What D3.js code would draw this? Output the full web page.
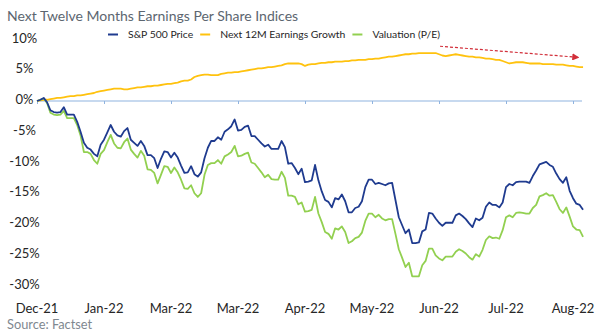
<!DOCTYPE html>
<html>
<head>
<meta charset="utf-8">
<script src="https://cdn.jsdelivr.net/npm/d3@7"></script>
<style>
  body { margin: 0; background: #fff; }
  svg { display: block; font-family: Lato, "Open Sans", sans-serif; }
</style>
</head>
<body>
<div id="chart"></div>
<script>
// x axis categories (one label every 20 trading days)
var xTickLabels = ["Dec-21", "Jan-22", "Mar-22", "Mar-22", "Apr-22", "May-22", "Jun-22", "Jul-22", "Aug-22"];
var yTicks = [10, 5, 0, -5, -10, -15, -20, -25, -30];

// daily % change since start
var sp500Price = [
  0, 0.2, 0.5, -0.2, -1.5, -1.8, -1.9, -1.8, -1.0, -2.2,
  -2.2, -2.2, -3.4, -5.0, -6.8, -7.6, -7.9, -8.6, -9.0, -7.1,
  -6.3, -5.1, -3.9, -5.0, -5.6, -5.8, -4.9, -4.4, -6.3, -6.8,
  -7.3, -6.5, -7.3, -8.8, -8.8, -9.3, -10.9, -9.4, -8.2, -8.3,
  -9.2, -8.4, -9.2, -10.5, -11.7, -11.6, -10.6, -11.9, -12.3, -11.6,
  -9.3, -7.6, -6.5, -6.5, -5.9, -6.3, -5.0, -4.6, -4.1, -3.0,
  -4.8, -4.7, -4.2, -4.0, -5.7, -5.7, -6.3, -6.9, -7.4, -7.1,
  -7.8, -7.8, -7.8, -6.5, -7.5, -10.2, -10.1, -10.9, -11.9, -11.0,
  -13.2, -13.1, -12.9, -10.4, -12.9, -14.7, -16.1, -16.4, -17.3, -15.8,
  -16.0, -15.2, -16.3, -18.1, -18.1, -17.4, -17.2, -16.3, -14.0, -12.8,
  -12.8, -13.5, -13.3, -13.5, -13.7, -13.4, -13.3, -16.1, -18.9, -20.2,
  -21.5, -20.9, -23.1, -23.1, -23.0, -21.2, -20.9, -18.2, -18.3, -19.1,
  -19.8, -20.3, -19.8, -19.8, -19.8, -18.6, -18.3, -18.7, -19.2, -19.9,
  -20.5, -19.1, -19.4, -19.0, -17.2, -16.5, -16.9, -16.9, -17.3, -16.5,
  -14.0, -13.5, -13.7, -13.2, -13.1, -13.1, -13.1, -13.3, -12.2, -11.3,
  -10.3, -10.1, -9.9, -10.4, -10.7, -11.8, -12.7, -13.3, -12.4, -14.6,
  -15.8, -16.7, -16.9, -17.7
];

var earningsGrowth = [
  0, 0.1, 0.2, 0.2, 0.3, 0.4, 0.5, 0.5, 0.6, 0.7,
  0.8, 0.8, 0.9, 0.9, 1.0, 1.1, 1.2, 1.3, 1.5, 1.6,
  1.7, 1.8, 1.9, 2.0, 2.0, 2.0, 1.9, 1.9, 2.0, 2.1,
  2.2, 2.2, 2.3, 2.4, 2.4, 2.5, 2.5, 2.6, 2.7, 2.8,
  2.8, 2.9, 3.0, 3.2, 3.3, 3.3, 3.5, 3.9, 4.1, 4.2,
  4.3, 4.3, 4.2, 4.2, 4.2, 4.4, 4.5, 4.6, 4.6, 4.7,
  4.7, 4.8, 4.9, 5.0, 5.1, 5.2, 5.3, 5.3, 5.4, 5.5,
  5.5, 5.6, 5.7, 5.8, 6.0, 6.1, 6.1, 6.1, 6.1, 6.0,
  5.7, 5.9, 6.0, 6.0, 6.1, 6.2, 6.2, 6.3, 6.3, 6.4,
  6.4, 6.4, 6.5, 6.5, 6.6, 6.6, 6.7, 6.7, 6.7, 6.8,
  6.8, 6.9, 6.9, 7.0, 7.1, 7.2, 7.2, 7.3, 7.4, 7.5,
  7.6, 7.6, 7.7, 7.7, 7.8, 7.8, 7.8, 7.8, 7.8, 7.8,
  7.6, 7.4, 7.3, 7.4, 7.5, 7.6, 7.5, 7.4, 7.3, 7.2,
  7.2, 7.1, 7.1, 7.0, 6.9, 6.9, 6.8, 6.7, 6.7, 6.5,
  6.3, 6.1, 6.2, 6.3, 6.3, 6.3, 6.2, 6.1, 6.1, 6.1,
  6.1, 6.0, 6.0, 6.0, 6.0, 5.9, 5.9, 5.9, 5.8, 5.7,
  5.7, 5.6, 5.5, 5.5
];

var valuation = [
  0, 0.2, 0.4, -0.3, -1.9, -2.2, -2.3, -2.2, -1.6, -2.8,
  -2.8, -2.8, -3.9, -5.6, -8.3, -8.3, -8.6, -9.6, -10.2, -8.6,
  -8.0, -6.7, -5.5, -6.9, -7.6, -7.7, -6.7, -6.1, -7.9, -8.6,
  -9.2, -8.1, -8.9, -11.1, -11.2, -11.7, -13.4, -12.0, -10.6, -10.7,
  -11.7, -10.8, -11.6, -12.8, -14.2, -14.3, -13.7, -15.0, -15.6, -15.0,
  -12.0, -10.4, -10.1, -10.1, -9.6, -10.2, -9.0, -8.7, -8.3, -7.3,
  -9.0, -8.9, -8.6, -8.4, -10.0, -10.2, -10.9, -11.6, -12.4, -12.0,
  -12.7, -12.8, -12.8, -11.5, -12.5, -15.4, -15.4, -15.6, -16.8, -16.5,
  -18.0, -17.9, -17.7, -15.6, -18.3, -19.7, -21.3, -21.6, -22.4, -20.7,
  -20.9, -20.4, -21.3, -23.1, -22.8, -22.3, -22.1, -21.4, -19.5, -18.3,
  -18.3, -18.9, -18.5, -19.1, -19.4, -19.2, -19.2, -21.6, -24.1, -25.5,
  -27.0, -26.3, -28.5, -28.5, -28.5, -26.7, -26.0, -24.0, -24.0, -25.1,
  -25.6, -25.9, -25.3, -25.3, -25.3, -24.5, -24.1, -24.4, -24.8, -25.4,
  -25.8, -24.9, -25.3, -24.2, -22.6, -22.0, -22.3, -22.2, -22.4, -21.0,
  -18.9, -18.6, -18.9, -18.2, -18.1, -18.2, -18.3, -18.3, -17.4, -16.9,
  -15.5, -15.3, -15.0, -15.4, -15.3, -16.4, -17.6, -18.2, -17.3, -18.8,
  -20.4, -20.9, -21.0, -22.1
];

// dashed red trend arrow over the earnings line: [day index, value]
var trendArrow = [[120.3, 8.9], [161.5, 7.1]];

var series = [
  {name: "S&P 500 Price", values: sp500Price, color: "#1f3b8f"},
  {name: "Next 12M Earnings Growth", values: earningsGrowth, color: "#ffc20e"},
  {name: "Valuation (P/E)", values: valuation, color: "#92d050"}
];

var width = 600, height = 336;

var svg = d3.select("#chart").append("svg")
    .attr("width", width)
    .attr("height", height);

var xScale = d3.scaleLinear().domain([0, 160]).range([37, 573]);
var yScale = d3.scaleLinear().domain([-30, 10]).range([285.5, 39.5]);

// Title
svg.append("text")
    .attr("x", 7)
    .attr("y", 21)
    .style("font-size", "14px")
    .style("fill", "#5c6670")
    .text("Next Twelve Months Earnings Per Share Indices");

// Source
svg.append("text")
    .attr("x", 7)
    .attr("y", 329)
    .style("font-size", "12.8px")
    .style("fill", "#7f8890")
    .text("Source: Factset");

// Y labels
svg.append("g").selectAll("text")
    .data(yTicks)
    .enter().append("text")
    .attr("x", 24.5)
    .attr("y", function (d) { return yScale(d) - 1.5; })
    .attr("dy", "0.35em")
    .style("text-anchor", "middle")
    .style("font-size", "13px")
    .style("fill", "#262626")
    .text(function (d) { return d + "%"; });

// X axis at 0% with labels at the bottom
var n = sp500Price.length;
var xAxis = d3.axisBottom(xScale)
    .tickValues(d3.range(0, 161, 20))
    .tickSize(3)
    .tickSizeOuter(0)
    .tickFormat("");

var xAxisG = svg.append("g")
    .attr("transform", "translate(0," + yScale(0) + ")")
    .call(xAxis);
xAxisG.select(".domain").remove();
xAxisG.selectAll(".tick line").attr("stroke", "#8fb3df");
xAxisG.append("line")
    .attr("x1", xScale(0)).attr("x2", xScale(n - 1) - 1)
    .attr("stroke", "#8fb3df").attr("stroke-width", 1.2);

svg.append("g").selectAll("text")
    .data(xTickLabels)
    .enter().append("text")
    .attr("x", function (d, i) { return xScale(i * 20); })
    .attr("y", 313)
    .style("text-anchor", "middle")
    .style("font-size", "13px")
    .style("fill", "#262626")
    .text(function (d) { return d; });

// Lines
var line = d3.line()
    .x(function (d, i) { return xScale(i); })
    .y(function (d) { return yScale(d); });

[series[1], series[2], series[0]].forEach(function (s) {
    svg.append("path")
        .datum(s.values)
        .attr("fill", "none")
        .attr("stroke", s.color)
        .attr("stroke-width", 1.8)
        .attr("stroke-linejoin", "round")
        .attr("d", line);
});

// Trend arrow
svg.append("defs").append("marker")
    .attr("id", "arrowHead")
    .attr("viewBox", "0 0 10 10")
    .attr("refX", 8).attr("refY", 5)
    .attr("markerWidth", 6).attr("markerHeight", 6)
    .attr("orient", "auto")
    .append("path")
    .attr("d", "M0,0 L10,5 L0,10 z")
    .attr("fill", "#d22f3a");

svg.append("line")
    .attr("x1", xScale(trendArrow[0][0])).attr("y1", yScale(trendArrow[0][1]))
    .attr("x2", xScale(trendArrow[1][0])).attr("y2", yScale(trendArrow[1][1]))
    .attr("stroke", "#d22f3a")
    .attr("stroke-width", 1.2)
    .attr("stroke-dasharray", "3,2")
    .attr("marker-end", "url(#arrowHead)");

// Legend
var legend = svg.append("g").attr("transform", "translate(0,34.5)");
var lx = 108;
series.forEach(function (s) {
    legend.append("line")
        .attr("x1", lx).attr("x2", lx + 10)
        .attr("stroke", s.color).attr("stroke-width", 2);
    var t = legend.append("text")
        .attr("x", lx + 20)
        .attr("dy", "0.35em")
        .style("font-size", "10.4px")
        .style("fill", "#262626")
        .text(s.name);
    lx = lx + 20 + t.node().getComputedTextLength() + 7;
});
</script>
</body>
</html>
